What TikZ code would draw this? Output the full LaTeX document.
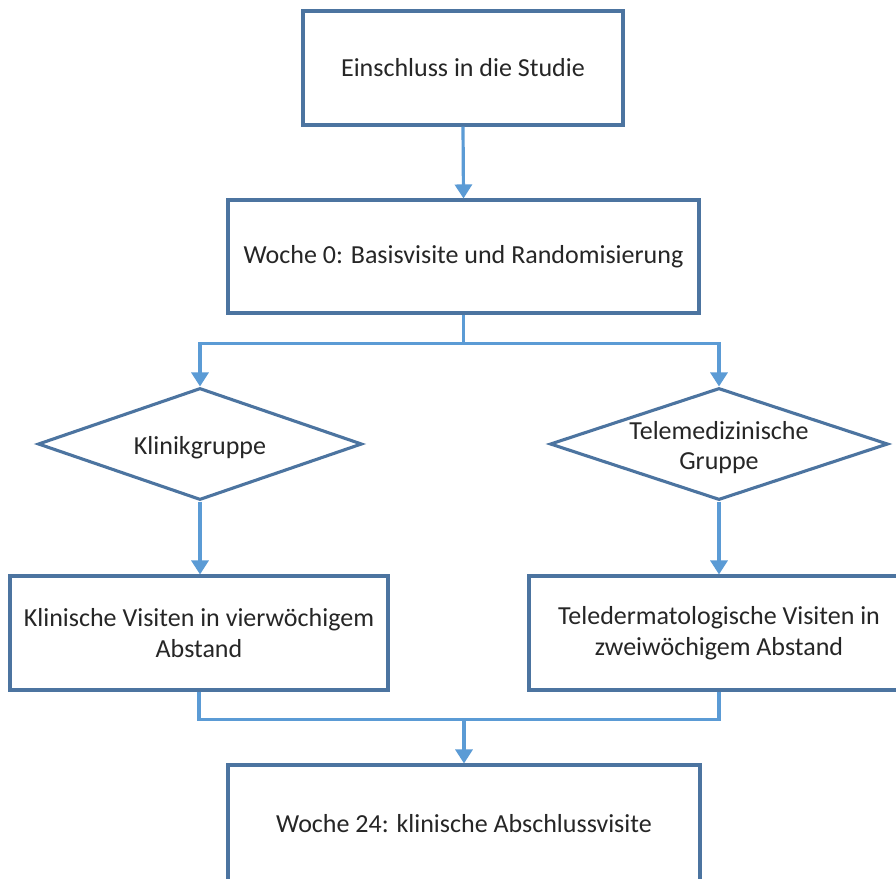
\documentclass[tikz,border=0pt]{standalone}
\usepackage{fontspec}
\setmainfont{Carlito}
\usetikzlibrary{arrows.meta,shapes.geometric}
\definecolor{boxline}{RGB}{76,116,160}
\definecolor{connc}{RGB}{91,155,213}
\definecolor{txt}{RGB}{38,38,38}
\begin{document}
\begin{tikzpicture}[x=1pt,y=-1pt,
  box/.style={draw=boxline, line width=3.1pt, fill=white, rectangle, inner sep=0pt,
    align=center, font=\fontsize{26}{31}\selectfont, text=txt},
  dia/.style={draw=boxline, diamond, line width=3.1pt, fill=white, inner sep=0pt},
  lbl/.style={align=center, font=\fontsize{26}{30}\selectfont, text=txt, yshift=-4pt},
  conn/.style={draw=connc, line width=3.2pt},
  arr/.style={conn, -{Triangle[length=14pt,width=17pt]}}]
\useasboundingbox (0,0) rectangle (896,878);
\clip (0,0) rectangle (896,878);
\fill[white] (0,0) rectangle (896,878);

\node[box, minimum width=320pt, minimum height=114pt] (box1) at (463,68) {Einschluss in die Studie};
\node[box, minimum width=471pt, minimum height=113pt] (box2) at (463.5,256.5) {Woche 0: Basisvisite und Randomisierung};
\node[dia, minimum width=324pt, minimum height=112pt,
      label={[lbl]center:Klinikgruppe}] (dL) at (200,444) {};
\node[dia, minimum width=338pt, minimum height=112pt,
      label={[lbl]center:Telemedizinische\\Gruppe}] (dR) at (719,444) {};
\node[box, minimum width=378pt, minimum height=114pt] (bL) at (199,633) {Klinische Visiten in vierwöchigem\\Abstand};
\node[box, minimum width=380pt, minimum height=114pt] (bR) at (719,633) {Teledermatologische Visiten in\\zweiwöchigem Abstand};
\node[box, minimum width=472pt, minimum height=118pt] (b3) at (464,824) {Woche 24: klinische Abschlussvisite};

\draw[arr] (box1.south) -- (box2.north);
\path (box2.south) ++(0,29) coordinate (split);
\draw[conn] (box2.south) -- (split);
\draw[arr] (split) -| (dL.north);
\draw[arr] (split) -| (dR.north);
\draw[arr] (dL.south) -- (dL.south |- bL.north);
\draw[arr] (dR.south) -- (bR.north);
\path (bL.south) ++(0,28) coordinate (join);
\draw[conn] (bL.south) -- (join) -| (bR.south);
\draw[arr] (b3.north |- join) -- (b3.north);
\end{tikzpicture}
\end{document}
